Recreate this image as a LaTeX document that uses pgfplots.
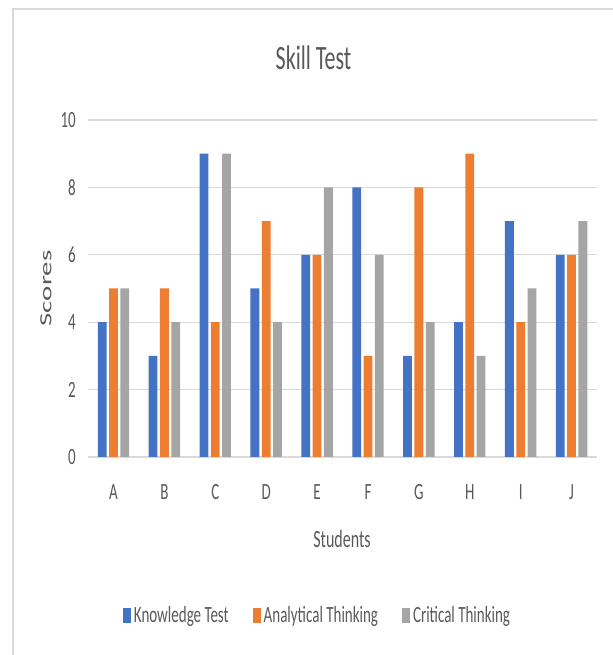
\documentclass[border=0pt]{standalone}
\usepackage{fontspec}
\setmainfont{Carlito}
\usepackage{graphicx}
\usepackage{pgfplots}
\pgfplotsset{compat=1.18}
\usepackage{pgfplotstable}
\definecolor{kblue}{HTML}{4472C4}
\definecolor{korange}{HTML}{ED7D31}
\definecolor{kgray}{HTML}{A5A5A5}
\definecolor{txt}{HTML}{595959}
\definecolor{gridc}{HTML}{D9D9D9}

\pgfplotstableread{
x k a c
0 4 5 5
1 3 5 4
2 9 4 9
3 5 7 4
4 6 6 8
5 8 3 6
6 3 8 4
7 4 9 3
8 7 4 5
9 6 6 7
}\data

\pgfplotsset{mylegend/.style={legend image code/.code={\fill[##1] (0bp,-7.5bp) rectangle (8bp,7.5bp);}}}

\begin{document}
\begin{tikzpicture}
\useasboundingbox (0bp,0bp) rectangle (613bp,655bp);
\draw[color=gridc, line width=1.5bp] (13bp,0bp) -- (13bp,646bp) -- (613bp,646bp);
\begin{axis}[
  at={(88bp,198bp)}, anchor=south west,
  scale only axis, width=509bp, height=337bp,
  ybar=2.5bp, bar width=8.8bp,
  xmin=-0.5, xmax=9.5, ymin=0, ymax=10,
  xtick={0,...,9}, xticklabels={A,B,C,D,E,F,G,H,I,J},
  ytick={0,2,...,10},
  major tick length=0pt,
  axis line style={draw=none},
  ymajorgrids, grid style={gridc, line width=1.2bp},
  /pgf/number format/assume math mode=true,
  tick label style={font=\fontsize{15bp}{18bp}\selectfont, text=txt},
  xticklabel style={anchor=center, inner sep=0pt, yshift=-35.5bp, yscale=1.55},
  yticklabel style={anchor=east, inner sep=0pt, xshift=-12bp, yscale=1.55},
  every axis title/.style={at={(axis description cs:0,0)}, anchor=center, xshift=225.5bp, yshift=399.5bp, yscale=1.55, font=\fontsize{22bp}{26bp}\selectfont, text=txt},
  title={Skill Test},
  every axis x label/.style={at={(axis description cs:0,0)}, anchor=center, xshift=254bp, yshift=-82bp, yscale=1.55, font=\fontsize{16bp}{19bp}\selectfont, text=txt},
  xlabel={Students},
  every axis y label/.style={at={(axis description cs:0,0)}, anchor=center, xshift=-42bp, yshift=168.5bp, yscale=1.7, rotate=90, font=\fontsize{17bp}{20bp}\selectfont, text=txt},
  ylabel={Scores},
  legend columns=3,
  legend style={at={(axis description cs:0,0)}, anchor=center, xshift=228.5bp, yshift=-158bp,
    draw=none, fill=none, font=\fontsize{15bp}{18bp}\selectfont, text=txt,
    nodes={inner sep=0pt},
    /tikz/every odd column/.append style={column sep=3bp},
    /tikz/every even column/.append style={column sep=24bp}},
  legend cell align=left,
]
\addplot[fill=kblue, draw=none, mylegend] table[x=x, y=k]{\data};
\addlegendentry{\scalebox{1}[1.55]{Knowledge Test}}
\addplot[fill=korange, draw=none, mylegend] table[x=x, y=a]{\data};
\addlegendentry{\scalebox{1}[1.55]{Analytical Thinking}}
\addplot[fill=kgray, draw=none, mylegend] table[x=x, y=c]{\data};
\addlegendentry{\scalebox{1}[1.55]{Critical Thinking}}
\end{axis}
\end{tikzpicture}
\end{document}
